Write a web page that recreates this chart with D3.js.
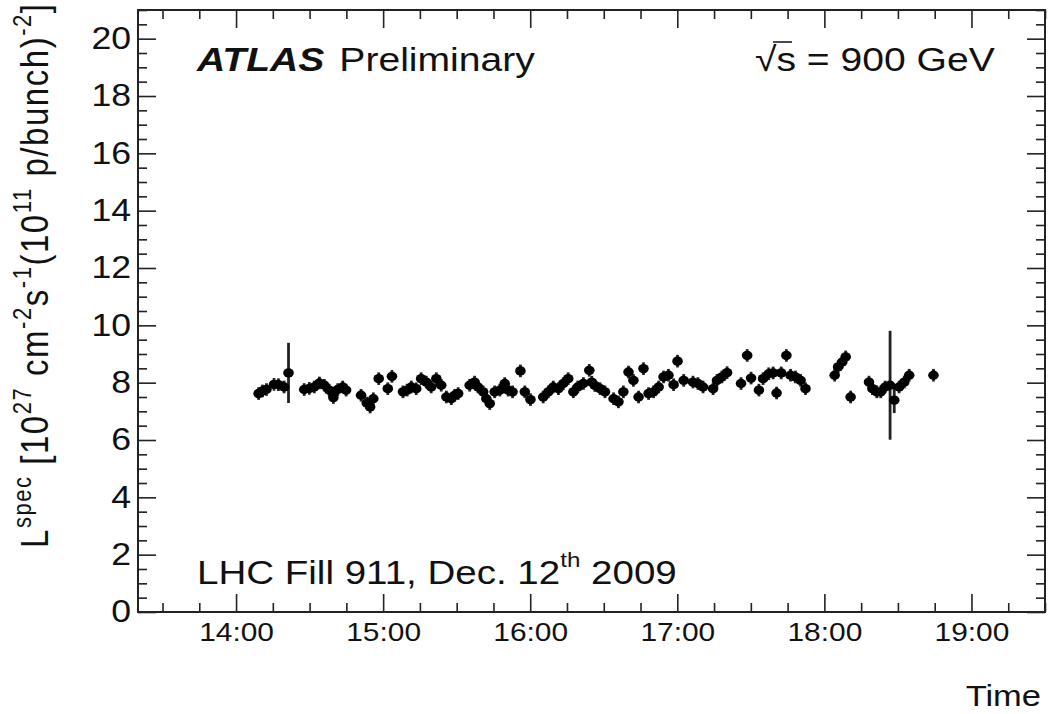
<!DOCTYPE html>
<html>
<head>
<meta charset="utf-8">
<script src="https://cdn.jsdelivr.net/npm/d3@7"></script>
<style>
  body { margin: 0; background: #fff; }
  text { font-family: "Liberation Sans", Arial, sans-serif; fill: #111; }
</style>
</head>
<body>
<svg id="chart"></svg>
<script>
// minutes after 14:00 on 12 Dec 2009
const minutes = [
  9.2, 10.8, 12.4, 15.5, 17.3, 19.6, 21.4, 27.8, 29.9, 31.9, 34.0, 36.0, 38.0, 39.7, 41.5, 43.5, 44.9,
  51.0, 53.3, 54.7, 56.0, 58.2, 61.9, 63.6, 68.1, 69.8, 71.5, 73.5, 75.5, 77.6, 79.6, 81.7, 83.7,
  85.8, 87.8, 89.2, 90.6, 95.3, 97.3, 98.7, 100.8, 102.1, 103.5, 105.5, 107.6, 109.6, 111.0, 112.8,
  116.0, 117.8, 120.1, 125.3, 127.4, 129.4, 131.5, 133.5, 135.5, 137.6, 139.4, 141.7, 144.1, 145.1,
  146.4, 148.5, 150.5, 154.0, 156.0, 158.0, 160.1, 162.1, 164.2, 166.2, 168.3, 170.3, 172.4, 174.4,
  176.4, 178.5, 180.1, 182.6, 186.4, 188.4, 190.5, 194.6, 196.2, 198.2, 200.3, 206.0, 208.5, 210.1,
  213.3, 215.0, 217.3, 219.1, 220.5, 222.4, 224.5, 226.2, 228.2, 230.3, 232.3,
  244.2, 245.6, 247.3, 248.7, 250.7, 258.2, 259.6, 261.4, 263.0, 264.8, 266.8, 268.5, 270.5, 272.6,
  274.6, 284.5
];
const lumi = [
  7.62, 7.71, 7.76, 7.94, 7.93, 7.85, 8.34, 7.76, 7.80, 7.85, 7.99, 7.91, 7.74, 7.48, 7.76, 7.85, 7.74,
  7.56, 7.29, 7.15, 7.44, 8.14, 7.79, 8.22, 7.68, 7.74, 7.85, 7.79, 8.14, 8.02, 7.85, 8.14, 7.91,
  7.50, 7.44, 7.56, 7.62, 7.91, 8.02, 7.85, 7.68, 7.44, 7.27, 7.68, 7.74, 7.97, 7.74, 7.68,
  8.41, 7.68, 7.41, 7.50, 7.68, 7.85, 7.79, 7.97, 8.14, 7.68, 7.85, 7.97, 8.43, 8.02,
  7.90, 7.79, 7.68, 7.44, 7.33, 7.68, 8.37, 8.08, 7.50, 8.49, 7.62, 7.68, 7.85, 8.20,
  8.26, 7.93, 8.75, 8.08, 8.02, 7.97, 7.85, 7.79, 8.08, 8.20, 8.35, 7.97, 8.95, 8.16,
  7.74, 8.14, 8.31, 8.34, 7.64, 8.34, 8.95, 8.26, 8.20, 8.08, 7.79,
  8.26, 8.55, 8.72, 8.90, 7.50, 8.02, 7.79, 7.68, 7.68, 7.85, 7.91, 7.39, 7.85, 8.02,
  8.26, 8.26
];
const errs = [
  0.22, 0.22, 0.22, 0.22, 0.22, 0.22, 1.05, 0.22, 0.22, 0.22, 0.22, 0.22, 0.22, 0.22, 0.22, 0.22, 0.22,
  0.22, 0.22, 0.22, 0.22, 0.22, 0.22, 0.22, 0.22, 0.22, 0.22, 0.22, 0.22, 0.22, 0.22, 0.22, 0.22,
  0.22, 0.22, 0.22, 0.22, 0.22, 0.22, 0.22, 0.22, 0.22, 0.22, 0.22, 0.22, 0.22, 0.22, 0.22,
  0.22, 0.22, 0.22, 0.22, 0.22, 0.22, 0.22, 0.22, 0.22, 0.22, 0.22, 0.22, 0.22, 0.22,
  0.22, 0.22, 0.22, 0.22, 0.22, 0.22, 0.22, 0.22, 0.22, 0.22, 0.22, 0.22, 0.22, 0.22,
  0.22, 0.22, 0.22, 0.22, 0.22, 0.22, 0.22, 0.22, 0.22, 0.22, 0.22, 0.22, 0.22, 0.22,
  0.22, 0.22, 0.22, 0.22, 0.22, 0.22, 0.22, 0.22, 0.22, 0.22, 0.22,
  0.22, 0.22, 0.22, 0.22, 0.22, 0.22, 0.22, 0.22, 0.22, 0.22, 1.90, 0.45, 0.22, 0.22,
  0.22, 0.22
];
const hourLabels = ["14:00", "15:00", "16:00", "17:00", "18:00", "19:00"];
const yTicks = [0, 2, 4, 6, 8, 10, 12, 14, 16, 18, 20];

const W = 1051, H = 714;
const padL = 138, padR = 1045, padT = 10, padB = 612;
const sx = 1.15; // the picture is slightly stretched sideways

const day = (h, m) => new Date(2009, 11, 12, h, m);
const t0 = day(14, 0);
const pts = minutes.map((m, i) => ({
  t: new Date(t0.getTime() + m * 60000), v: lumi[i], e: errs[i]
}));

const x = d3.scaleTime().domain([day(13, 20), day(19, 30)]).range([padL, padR]);
const y = d3.scaleLinear().domain([0, 21]).range([padB, padT]);

const svg = d3.select('#chart').attr('width', W).attr('height', H);

const hours = hourLabels.map(s => day(+s.slice(0, 2), 0));
const minors = d3.timeMinute.every(15).range(day(13, 30), day(19, 31))
  .filter(d => d.getMinutes() !== 0);
const yMinor = d3.range(0, 21.01, 0.5).filter(v => v % 2 !== 0);

function clean(g) {
  g.select('.domain').remove();
  g.selectAll('line').attr('stroke', '#222').attr('stroke-width', 1.6);
}

// bottom axis with labels
svg.append('g')
  .attr('transform', 'translate(0,' + padB + ')')
  .call(d3.axisBottom(x).tickValues(hours).tickSize(-18).tickPadding(11)
    .tickFormat(d3.timeFormat('%H:%M')))
  .call(clean)
  .call(g => g.selectAll('text').attr('font-size', 26).attr('fill', '#111')
    .attr('transform', 'scale(' + sx + ',1)'));
svg.append('g')
  .attr('transform', 'translate(0,' + padB + ')')
  .call(d3.axisBottom(x).tickValues(minors).tickSize(-9).tickFormat(''))
  .call(clean);
// top mirror
svg.append('g')
  .attr('transform', 'translate(0,' + padT + ')')
  .call(d3.axisTop(x).tickValues(hours).tickSize(-18).tickFormat(''))
  .call(clean);
svg.append('g')
  .attr('transform', 'translate(0,' + padT + ')')
  .call(d3.axisTop(x).tickValues(minors).tickSize(-9).tickFormat(''))
  .call(clean);

// left axis with labels
svg.append('g')
  .attr('transform', 'translate(' + padL + ',0)')
  .call(d3.axisLeft(y).tickValues(yTicks).tickSize(-18).tickPadding(6))
  .call(clean)
  .call(g => g.selectAll('text').attr('font-size', 31).attr('fill', '#111')
    .attr('transform', 'scale(' + sx + ',1)'));
svg.append('g')
  .attr('transform', 'translate(' + padL + ',0)')
  .call(d3.axisLeft(y).tickValues(yMinor).tickSize(-9).tickFormat(''))
  .call(clean);
// right mirror
svg.append('g')
  .attr('transform', 'translate(' + padR + ',0)')
  .call(d3.axisRight(y).tickValues(yTicks).tickSize(-18).tickFormat(''))
  .call(clean);
svg.append('g')
  .attr('transform', 'translate(' + padR + ',0)')
  .call(d3.axisRight(y).tickValues(yMinor).tickSize(-9).tickFormat(''))
  .call(clean);

svg.append('rect')
  .attr('x', padL).attr('y', padT)
  .attr('width', padR - padL).attr('height', padB - padT)
  .attr('fill', 'none').attr('stroke', '#222').attr('stroke-width', 2);

// error bars and markers
const mk = svg.append('g');
mk.selectAll('line.err').data(pts).enter().append('line')
  .attr('class', 'err')
  .attr('x1', d => x(d.t)).attr('x2', d => x(d.t))
  .attr('y1', d => y(d.v - d.e)).attr('y2', d => y(d.v + d.e))
  .attr('stroke', '#222').attr('stroke-width', 2.8);
mk.selectAll('ellipse').data(pts).enter().append('ellipse')
  .attr('cx', d => x(d.t)).attr('cy', d => y(d.v))
  .attr('rx', 5.3).attr('ry', 4.7)
  .attr('fill', '#000');

// labels
function label(px, py, size) {
  return svg.append('text')
    .attr('transform', 'translate(' + px + ',' + py + ') scale(' + sx + ',1)')
    .attr('font-size', size);
}

const atl = label(197, 71, 34);
atl.append('tspan').attr('font-weight', 'bold').attr('font-style', 'italic').text('ATLAS');
atl.append('tspan').attr('dx', 13).text('Preliminary');

const rs = label(755, 71, 34);
rs.append('tspan').text('\u221As = 900 GeV');
svg.append('line')
  .attr('x1', 773).attr('x2', 792).attr('y1', 42).attr('y2', 42)
  .attr('stroke', '#111').attr('stroke-width', 1.5);

const lhc = label(197, 584, 33.5);
lhc.append('tspan').text('LHC Fill 911, Dec. 12');
lhc.append('tspan').attr('font-size', 21).attr('dy', -17).text('th');
lhc.append('tspan').attr('dy', 17).text(' 2009');

label(1041, 706, 30).attr('text-anchor', 'end').text('Time');

const yt = svg.append('text')
  .attr('transform', 'translate(48,548) scale(' + sx + ',1) rotate(-90)')
  .attr('font-size', 33)
  .attr('textLength', 544)
  .attr('lengthAdjust', 'spacing');
const sup = (txt) => { yt.append('tspan').attr('font-size', 22).attr('dy', -15).text(txt); };
const nor = (txt) => { yt.append('tspan').attr('dy', 15).text(txt); };
yt.append('tspan').text('L');
sup('spec');
nor(' [10');
sup('27');
nor(' cm');
sup('-2');
nor('s');
sup('-1');
nor('(10');
sup('11');
nor(' p/bunch)');
sup('-2');
nor(']');
</script>
</body>
</html>
